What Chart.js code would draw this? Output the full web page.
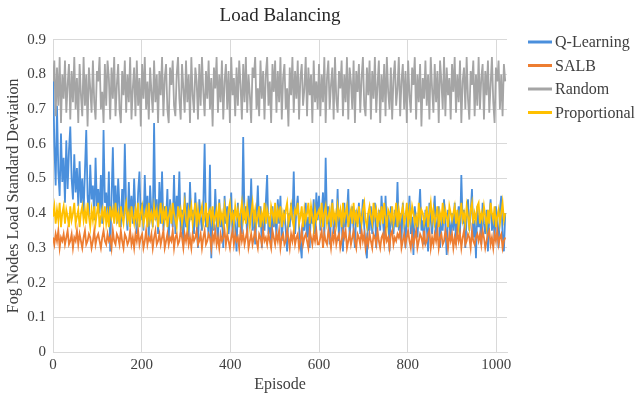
<!DOCTYPE html>
<html>
<head>
<meta charset="utf-8">
<script src="https://cdn.jsdelivr.net/npm/chart.js@4.4.1/dist/chart.umd.min.js"></script>
<style>
  html, body { margin: 0; padding: 0; background: #fff; }
  #wrap { width: 635px; height: 398px; }
</style>
</head>
<body>
<div id="wrap"><canvas id="chart" width="635" height="398"></canvas></div>
<script>
/* Episodes, one sample every 3 episodes (0..1020) */
const episodes = Array.from({ length: 341 }, (_, i) => i * 3);
const xTicks = [0, 200, 400, 600, 800, 1000];
const yTicks = [0, 0.1, 0.2, 0.3, 0.4, 0.5, 0.6, 0.7, 0.8, 0.9];
const seriesNames = ["Q-Learning", "SALB", "Random", "Proportional"];
const seriesColors = ["#4a8fdc", "#ed7d31", "#a5a5a5", "#ffc000"];

const qLearning = [
  0.82,0.60,0.48,0.71,0.52,0.45,0.63,0.49,0.56,0.43,0.61,0.47,0.58,0.65,0.50,0.44,0.57,0.46,0.53,0.42,
  0.55,0.43,0.50,0.40,0.52,0.64,0.45,0.39,0.54,0.44,0.48,0.38,0.56,0.42,0.47,0.40,0.51,0.37,0.64,0.43,
  0.46,0.38,0.52,0.29,0.44,0.59,0.40,0.48,0.37,0.50,0.42,0.36,0.47,0.39,0.60,0.41,0.35,0.49,0.38,0.45,
  0.37,0.50,0.40,0.34,0.46,0.52,0.38,0.43,0.35,0.51,0.39,0.45,0.33,0.48,0.40,0.36,0.66,0.38,0.44,0.34,
  0.49,0.37,0.52,0.35,0.42,0.38,0.47,0.32,0.44,0.39,0.36,0.51,0.34,0.45,0.40,0.52,0.35,0.41,0.31,0.46,
  0.36,0.43,0.33,0.49,0.38,0.41,0.34,0.46,0.37,0.30,0.44,0.39,0.35,0.42,0.60,0.36,0.40,0.33,0.54,0.27,
  0.41,0.35,0.47,0.38,0.32,0.44,0.36,0.40,0.30,0.45,0.37,0.42,0.34,0.39,0.46,0.33,0.41,0.36,0.29,0.43,
  0.36,0.40,0.34,0.62,0.38,0.42,0.33,0.45,0.37,0.50,0.35,0.41,0.31,0.39,0.48,0.36,0.42,0.30,0.40,0.35,
  0.43,0.51,0.34,0.39,0.30,0.42,0.36,0.40,0.33,0.44,0.37,0.45,0.32,0.38,0.41,0.35,0.29,0.40,0.36,0.43,
  0.38,0.52,0.34,0.41,0.45,0.36,0.31,0.27,0.40,0.35,0.43,0.33,0.39,0.30,0.42,0.37,0.44,0.34,0.46,0.38,
  0.45,0.35,0.40,0.46,0.33,0.56,0.37,0.42,0.31,0.39,0.44,0.34,0.40,0.36,0.47,0.32,0.41,0.38,0.29,0.43,
  0.36,0.40,0.47,0.33,0.39,0.42,0.35,0.30,0.41,0.37,0.43,0.34,0.38,0.44,0.36,0.31,0.27,0.40,0.35,0.42,
  0.34,0.39,0.43,0.30,0.37,0.41,0.35,0.45,0.38,0.33,0.45,0.36,0.40,0.29,0.42,0.37,0.34,0.41,0.36,0.49,
  0.35,0.40,0.32,0.43,0.37,0.30,0.41,0.36,0.45,0.34,0.39,0.28,0.42,0.37,0.33,0.40,0.47,0.35,0.38,0.31,
  0.41,0.36,0.29,0.43,0.38,0.34,0.40,0.45,0.33,0.37,0.42,0.30,0.39,0.35,0.44,0.36,0.28,0.41,0.37,0.33,
  0.40,0.35,0.43,0.31,0.38,0.42,0.34,0.51,0.37,0.41,0.30,0.39,0.44,0.35,0.40,0.47,0.33,0.38,0.27,0.42,
  0.36,0.40,0.31,0.43,0.37,0.34,0.41,0.29,0.39,0.44,0.35,0.40,0.32,0.42,0.37,0.30,0.41,0.45,0.34,0.29,
  0.40
];

const salb = [
  0.33,0.31,0.34,0.32,0.35,0.30,0.33,0.32,0.34,0.31,0.33,0.35,0.31,0.32,0.34,0.30,0.33,0.32,0.35,0.31,
  0.34,0.32,0.30,0.33,0.35,0.31,0.32,0.34,0.33,0.30,0.32,0.35,0.31,0.33,0.34,0.32,0.30,0.33,0.35,0.32,
  0.31,0.34,0.32,0.33,0.30,0.35,0.32,0.31,0.34,0.33,0.31,0.35,0.32,0.30,0.34,0.33,0.31,0.32,0.35,0.31,
  0.33,0.30,0.34,0.32,0.35,0.31,0.33,0.34,0.30,0.32,0.35,0.31,0.33,0.32,0.34,0.30,0.33,0.35,0.31,0.32,
  0.34,0.31,0.33,0.35,0.30,0.32,0.34,0.31,0.33,0.32,0.35,0.30,0.33,0.34,0.31,0.32,0.35,0.33,0.30,0.34,
  0.32,0.35,0.31,0.33,0.30,0.34,0.32,0.33,0.35,0.31,0.32,0.34,0.30,0.33,0.35,0.31,0.32,0.34,0.33,0.30,
  0.34,0.32,0.35,0.31,0.33,0.30,0.34,0.32,0.33,0.35,0.31,0.34,0.32,0.30,0.33,0.35,0.31,0.34,0.32,0.33,
  0.30,0.35,0.32,0.34,0.31,0.33,0.35,0.30,0.32,0.34,0.31,0.33,0.35,0.32,0.30,0.34,0.33,0.31,0.35,0.32,
  0.33,0.31,0.34,0.32,0.30,0.35,0.33,0.31,0.34,0.32,0.35,0.30,0.33,0.34,0.31,0.32,0.35,0.33,0.30,0.34,
  0.32,0.35,0.31,0.33,0.34,0.30,0.32,0.35,0.31,0.33,0.34,0.32,0.30,0.35,0.33,0.31,0.34,0.32,0.35,0.31,
  0.31,0.33,0.35,0.30,0.34,0.32,0.31,0.35,0.33,0.30,0.34,0.32,0.35,0.31,0.33,0.34,0.30,0.32,0.35,0.33,
  0.35,0.30,0.32,0.34,0.31,0.33,0.35,0.32,0.30,0.34,0.33,0.31,0.35,0.32,0.34,0.30,0.33,0.31,0.34,0.32,
  0.30,0.34,0.33,0.31,0.35,0.32,0.30,0.33,0.34,0.31,0.35,0.32,0.33,0.30,0.34,0.35,0.31,0.33,0.32,0.34,
  0.33,0.35,0.30,0.32,0.34,0.31,0.33,0.35,0.32,0.30,0.34,0.31,0.33,0.35,0.30,0.32,0.34,0.33,0.31,0.35,
  0.31,0.32,0.34,0.35,0.30,0.33,0.31,0.34,0.32,0.35,0.30,0.33,0.34,0.31,0.32,0.35,0.33,0.30,0.34,0.32,
  0.34,0.30,0.33,0.31,0.35,0.32,0.34,0.30,0.33,0.35,0.31,0.32,0.34,0.33,0.30,0.35,0.32,0.31,0.33,0.34,
  0.32,0.34,0.31,0.35,0.33,0.30,0.32,0.34,0.35,0.31,0.33,0.30,0.34,0.32,0.35,0.31,0.33,0.34,0.30,0.32,
  0.33
];

const random = [
  0.78,0.84,0.68,0.82,0.71,0.85,0.66,0.80,0.73,0.84,0.69,0.77,0.83,0.67,0.81,0.72,0.85,0.70,0.79,0.66,
  0.83,0.74,0.68,0.85,0.71,0.80,0.65,0.82,0.76,0.69,0.84,0.72,0.67,0.81,0.78,0.85,0.70,0.75,0.66,0.83,
  0.71,0.84,0.79,0.67,0.82,0.73,0.85,0.68,0.77,0.83,0.70,0.66,0.81,0.74,0.84,0.69,0.80,0.72,0.85,0.67,
  0.76,0.82,0.68,0.84,0.71,0.79,0.65,0.83,0.73,0.85,0.70,0.78,0.67,0.82,0.75,0.69,0.84,0.72,0.80,0.66,
  0.81,0.74,0.85,0.68,0.79,0.83,0.70,0.66,0.82,0.77,0.84,0.71,0.68,0.80,0.85,0.73,0.67,0.83,0.76,0.69,
  0.84,0.72,0.80,0.66,0.85,0.74,0.69,0.82,0.78,0.67,0.83,0.71,0.85,0.75,0.68,0.81,0.73,0.84,0.70,0.79,
  0.65,0.82,0.76,0.85,0.69,0.80,0.72,0.84,0.67,0.78,0.83,0.70,0.81,0.66,0.85,0.74,0.79,0.68,0.82,0.71,
  0.84,0.77,0.67,0.83,0.72,0.85,0.69,0.80,0.74,0.66,0.82,0.79,0.85,0.70,0.76,0.68,0.84,0.73,0.81,0.67,
  0.80,0.85,0.71,0.78,0.66,0.83,0.75,0.84,0.69,0.81,0.72,0.85,0.67,0.79,0.83,0.70,0.76,0.65,0.82,0.74,
  0.85,0.69,0.81,0.73,0.84,0.67,0.79,0.83,0.71,0.76,0.85,0.68,0.82,0.74,0.80,0.66,0.84,0.72,0.78,0.70,
  0.83,0.68,0.80,0.72,0.85,0.66,0.79,0.84,0.70,0.77,0.82,0.67,0.85,0.73,0.69,0.81,0.76,0.84,0.68,0.80,
  0.72,0.85,0.67,0.82,0.78,0.70,0.84,0.66,0.81,0.75,0.83,0.69,0.79,0.85,0.71,0.68,0.82,0.74,0.84,0.67,
  0.81,0.73,0.85,0.69,0.77,0.84,0.66,0.80,0.72,0.83,0.68,0.85,0.75,0.70,0.82,0.67,0.79,0.84,0.71,0.76,
  0.85,0.68,0.78,0.83,0.70,0.81,0.66,0.84,0.74,0.69,0.82,0.77,0.85,0.67,0.80,0.72,0.83,0.65,0.79,0.73,
  0.84,0.71,0.80,0.67,0.85,0.76,0.69,0.83,0.72,0.81,0.66,0.84,0.78,0.70,0.85,0.68,0.82,0.74,0.79,0.67,
  0.83,0.75,0.85,0.69,0.80,0.72,0.84,0.66,0.78,0.82,0.70,0.85,0.73,0.67,0.81,0.77,0.84,0.68,0.80,0.71,
  0.85,0.70,0.79,0.83,0.67,0.81,0.74,0.84,0.69,0.77,0.85,0.72,0.66,0.82,0.78,0.84,0.70,0.80,0.68,0.83,
  0.78
];

const proportional = [
  0.39,0.42,0.37,0.41,0.38,0.43,0.36,0.40,0.42,0.37,0.41,0.39,0.36,0.42,0.38,0.40,0.43,0.37,0.39,0.41,
  0.36,0.40,0.42,0.38,0.41,0.37,0.43,0.39,0.36,0.41,0.38,0.42,0.37,0.40,0.43,0.36,0.39,0.41,0.38,0.42,
  0.37,0.40,0.36,0.42,0.39,0.41,0.37,0.43,0.38,0.40,0.36,0.42,0.39,0.37,0.41,0.43,0.38,0.40,0.36,0.42,
  0.39,0.37,0.41,0.38,0.43,0.36,0.40,0.42,0.37,0.39,0.41,0.36,0.43,0.38,0.40,0.37,0.42,0.39,0.41,0.36,
  0.40,0.43,0.37,0.41,0.38,0.42,0.36,0.39,0.41,0.37,0.43,0.40,0.38,0.36,0.42,0.39,0.41,0.37,0.40,0.43,
  0.38,0.36,0.41,0.39,0.42,0.37,0.40,0.43,0.36,0.41,0.38,0.40,0.42,0.37,0.39,0.43,0.36,0.40,0.41,0.38,
  0.42,0.37,0.39,0.41,0.36,0.43,0.38,0.40,0.37,0.42,0.39,0.36,0.41,0.43,0.38,0.40,0.37,0.42,0.39,0.41,
  0.36,0.40,0.43,0.38,0.41,0.37,0.42,0.39,0.36,0.40,0.43,0.38,0.41,0.37,0.39,0.42,0.36,0.40,0.38,0.43,
  0.37,0.41,0.39,0.36,0.42,0.40,0.38,0.43,0.37,0.41,0.39,0.42,0.36,0.40,0.38,0.41,0.43,0.37,0.39,0.42,
  0.38,0.36,0.41,0.40,0.43,0.37,0.39,0.42,0.36,0.41,0.38,0.40,0.43,0.37,0.42,0.39,0.36,0.41,0.38,0.40,
  0.41,0.38,0.43,0.36,0.40,0.42,0.37,0.39,0.41,0.36,0.43,0.38,0.40,0.37,0.42,0.39,0.41,0.36,0.43,0.38,
  0.40,0.42,0.36,0.39,0.41,0.37,0.43,0.38,0.40,0.36,0.42,0.39,0.37,0.41,0.43,0.38,0.36,0.40,0.42,0.39,
  0.37,0.43,0.39,0.41,0.36,0.40,0.38,0.42,0.37,0.43,0.39,0.36,0.41,0.40,0.38,0.42,0.37,0.39,0.43,0.36,
  0.41,0.38,0.40,0.42,0.37,0.39,0.43,0.36,0.41,0.38,0.42,0.40,0.37,0.39,0.36,0.43,0.38,0.41,0.40,0.37,
  0.39,0.42,0.36,0.40,0.43,0.38,0.41,0.37,0.39,0.42,0.36,0.40,0.38,0.43,0.37,0.41,0.39,0.36,0.42,0.40,
  0.38,0.40,0.42,0.37,0.41,0.36,0.39,0.43,0.38,0.40,0.37,0.42,0.39,0.36,0.41,0.43,0.37,0.40,0.38,0.42,
  0.43,0.37,0.40,0.38,0.42,0.39,0.36,0.41,0.37,0.43,0.40,0.38,0.42,0.36,0.39,0.41,0.37,0.40,0.43,0.38,
  0.40
];

const SERIF = "'Liberation Serif', 'Times New Roman', serif";
const TEXT = "#404040";
const GRID = "#d9d9d9";

/* legend drawn at the right, like the Excel one */
const sideLegend = {
  id: "sideLegend",
  afterDraw(chart) {
    const ctx = chart.ctx;
    ctx.save();
    ctx.font = "16px " + SERIF;
    ctx.textBaseline = "middle";
    ctx.fillStyle = TEXT;
    seriesNames.forEach((name, i) => {
      const y = 42 + i * 23.5;
      ctx.strokeStyle = seriesColors[i];
      ctx.lineWidth = 3;
      ctx.beginPath();
      ctx.moveTo(528, y);
      ctx.lineTo(552, y);
      ctx.stroke();
      ctx.fillText(name, 555, y + 1);
    });
    ctx.restore();
  }
};

function toPoints(values) {
  return values.map((v, i) => ({ x: episodes[i], y: v }));
}

const allSeries = [qLearning, salb, random, proportional];
const drawOrder = [4, 3, 2, 1];
const lineWidths = [1.8, 1.8, 1.8, 1.8];

new Chart(document.getElementById("chart"), {
  type: "line",
  data: {
    datasets: allSeries.map((values, i) => ({
      label: seriesNames[i],
      data: toPoints(values),
      borderColor: seriesColors[i],
      backgroundColor: seriesColors[i],
      borderWidth: lineWidths[i],
      pointRadius: 0,
      tension: 0,
      order: drawOrder[i]
    }))
  },
  options: {
    responsive: false,
    animation: false,
    devicePixelRatio: 1,
    layout: { padding: { left: 0, right: 128, top: 0, bottom: 0 } },
    plugins: {
      legend: { display: false },
      tooltip: { enabled: false },
      title: {
        display: true,
        text: "Load Balancing",
        fullSize: false,
        color: "#262626",
        font: { family: SERIF, size: 19, weight: "normal" },
        padding: { top: 5, bottom: 12 }
      }
    },
    scales: {
      x: {
        type: "linear",
        min: 0,
        max: 1024,
        afterBuildTicks: (axis) => { axis.ticks = xTicks.map(v => ({ value: v })); },
        afterFit: (axis) => { axis.height = 46; },
        grid: { color: GRID, drawTicks: false },
        border: { color: GRID },
        ticks: {
          color: TEXT,
          padding: 4,
          font: { family: SERIF, size: 15 },
          callback: (v) => String(v)
        },
        title: {
          display: true,
          text: "Episode",
          color: TEXT,
          padding: { top: 0, bottom: 4 },
          font: { family: SERIF, size: 16 }
        }
      },
      y: {
        min: 0,
        max: 0.9,
        afterBuildTicks: (axis) => { axis.ticks = yTicks.map(v => ({ value: v })); },
        afterFit: (axis) => { axis.width = 53; },
        grid: { color: GRID, drawTicks: false },
        border: { color: GRID },
        ticks: {
          color: TEXT,
          padding: 7,
          font: { family: SERIF, size: 15 },
          callback: (v) => (v === 0 ? "0" : v.toFixed(1))
        },
        title: {
          display: true,
          text: "Fog Nodes Load Standard Deviation",
          color: TEXT,
          padding: { top: 4, bottom: 0 },
          font: { family: SERIF, size: 16 }
        }
      }
    }
  },
  plugins: [sideLegend]
});
</script>
</body>
</html>
